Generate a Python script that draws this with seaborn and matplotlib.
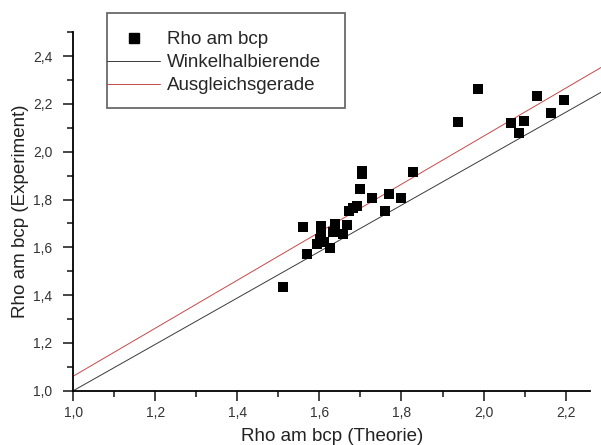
import matplotlib
matplotlib.use("Agg")
import matplotlib.pyplot as plt
import seaborn as sns
import pandas as pd
from matplotlib.lines import Line2D
from matplotlib.patches import Rectangle
from matplotlib.ticker import MultipleLocator, FuncFormatter

# measured values (Theorie vs Experiment)
rho_theorie = [1.512, 1.569, 1.559, 1.605, 1.605, 1.601, 1.593, 1.611, 1.626,
               1.638, 1.634, 1.658, 1.668, 1.672, 1.682, 1.691, 1.699, 1.704,
               1.704, 1.727, 1.770, 1.760, 1.798, 1.829, 1.938, 1.986, 2.068,
               2.098, 2.086, 2.130, 2.165, 2.197]
rho_experiment = [1.433, 1.573, 1.686, 1.690, 1.663, 1.635, 1.614, 1.621, 1.598,
                  1.698, 1.663, 1.656, 1.695, 1.751, 1.764, 1.774, 1.845, 1.918,
                  1.907, 1.806, 1.823, 1.751, 1.805, 1.915, 2.124, 2.264, 2.121,
                  2.128, 2.078, 2.235, 2.163, 2.215]

# line end points
winkel_x = [1.0, 2.29]
winkel_y = [1.0, 2.252]
ausgleich_x = [1.0, 2.29]
ausgleich_y = [1.061, 2.356]

labels = ["Rho am bcp", "Winkelhalbierende", "Ausgleichsgerade"]

df = pd.DataFrame({"theorie": rho_theorie, "experiment": rho_experiment})

sns.set_style("ticks")
plt.rcParams['font.family'] = ['Liberation Sans', 'DejaVu Sans']

fig = plt.figure(figsize=(6.01, 4.45), dpi=100)
ax = fig.add_axes([0.122, 0.122, 0.860, 0.8056])

black_col = "#3a3a3a"
red_col = "#c84848"
ax.plot(winkel_x, winkel_y, color=black_col, lw=0.7, clip_on=False, zorder=2)
ax.plot(ausgleich_x, ausgleich_y, color=red_col, lw=0.7, clip_on=False, zorder=2)
sns.scatterplot(data=df, x="theorie", y="experiment", marker="s", s=55,
                color="black", edgecolor="black", linewidth=0,
                legend=False, ax=ax, zorder=3)

ax.set_xlim(1.0, 2.26)
ax.set_ylim(1.0, 2.5)
ax.xaxis.set_major_locator(MultipleLocator(0.2))
ax.xaxis.set_minor_locator(MultipleLocator(0.1))
ax.yaxis.set_major_locator(MultipleLocator(0.2))
ax.yaxis.set_minor_locator(MultipleLocator(0.1))
fmt = FuncFormatter(lambda v, p: f"{v:.1f}".replace(".", ","))
ax.xaxis.set_major_formatter(fmt)
ax.yaxis.set_major_formatter(fmt)

for s in ["top", "right"]:
    ax.spines[s].set_visible(False)
for s in ["left", "bottom"]:
    ax.spines[s].set_linewidth(1.3)
    ax.spines[s].set_color("black")
ax.tick_params(which="major", length=7, width=1.2, labelsize=10,
               labelcolor="#333333", direction="out")
ax.tick_params(axis="x", which="major", pad=4)
ax.tick_params(axis="y", which="major", pad=8)
ax.tick_params(which="minor", length=4, width=1.2, direction="out")

ax.set_xlabel("Rho am bcp (Theorie)", fontsize=13.5, color="#222222", labelpad=6)
ax.set_ylabel("Rho am bcp (Experiment)", fontsize=13.5, color="#222222", labelpad=3)

# legend box drawn by hand so the line handles can touch its left edge
fig.patches.append(Rectangle((0.178, 0.757), 0.396, 0.2138,
                             transform=fig.transFigure, facecolor="white",
                             edgecolor="#6a6a6a", linewidth=1.3, zorder=5))
handles = [
    Line2D([], [], ls="none", marker="s", markersize=6.5, color="black"),
    Line2D([], [], color=black_col, lw=0.7),
    Line2D([], [], color=red_col, lw=0.7),
]
leg = fig.legend(handles, labels,
                 loc="upper left", bbox_to_anchor=(0.178, 0.9295),
                 fontsize=13.5, frameon=False,
                 handlelength=2.83, handletextpad=0.37, borderpad=0,
                 borderaxespad=0, labelspacing=0.31)
leg.set_zorder(6)

fig.savefig("out.png", dpi=100)
